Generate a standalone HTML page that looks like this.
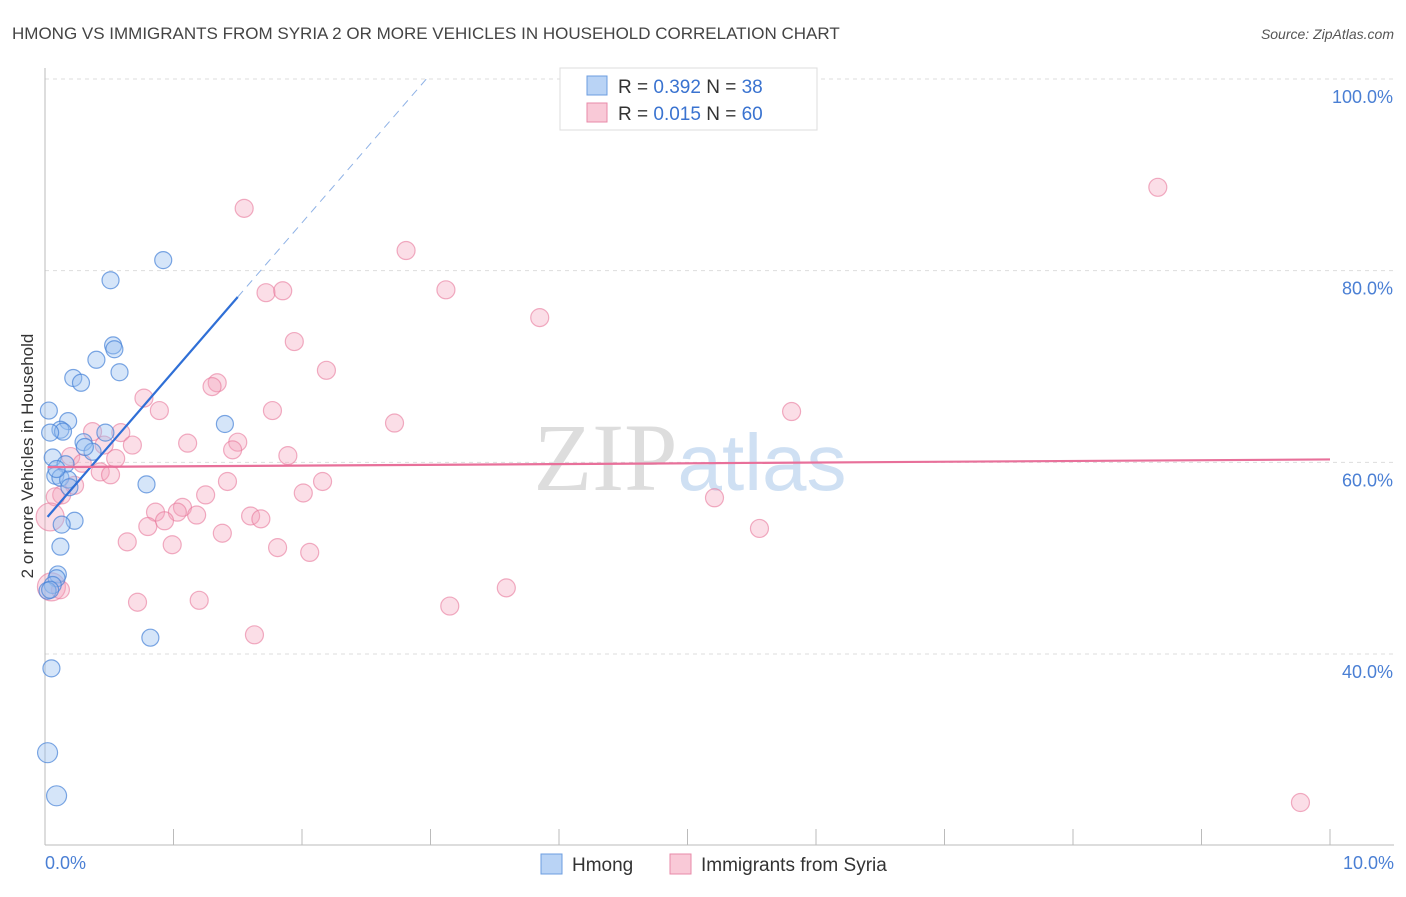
<!DOCTYPE html>
<html><head><meta charset="utf-8"><style>
body{margin:0;background:#fff;font-family:"Liberation Sans",sans-serif}
</style></head><body>
<svg id="c" width="1406" height="892" xmlns="http://www.w3.org/2000/svg">
<text x="12" y="39" font-size="17" fill="#444">HMONG VS IMMIGRANTS FROM SYRIA 2 OR MORE VEHICLES IN HOUSEHOLD CORRELATION CHART</text>
<text x="1394" y="39" font-size="14" fill="#555" font-style="italic" text-anchor="end">Source: ZipAtlas.com</text>
<text x="690" y="490" font-size="96" fill="#ddd" text-anchor="middle" font-family="Liberation Serif,serif">ZIP<tspan fill="#cfe0f3" font-family="Liberation Sans,sans-serif" font-size="80">atlas</tspan></text>
<g id="grid"></g>
<line x1="45" y1="68" x2="45" y2="845" stroke="#bbb"/>
<line x1="45" y1="845" x2="1394" y2="845" stroke="#bbb"/>
<text transform="translate(33,456) rotate(-90)" font-size="17" fill="#333" text-anchor="middle">2 or more Vehicles in Household</text>
<text x="45" y="869" font-size="18" fill="#4a7fd4">0.0%</text>
<text x="1394" y="869" font-size="18" fill="#4a7fd4" text-anchor="end">10.0%</text>
<g id="pts"></g>
<g id="lines"></g>
<g>
<rect x="560" y="68" width="257" height="62" fill="#fff" stroke="#ddd"/>
<rect x="587" y="76" width="20" height="19" fill="#b9d3f5" stroke="#6c9ee0"/>
<rect x="587" y="103" width="20" height="19" fill="#f9c9d7" stroke="#e88aa8"/>
<text x="618" y="93" font-size="19" fill="#333">R = <tspan fill="#3a73d0">0.392</tspan>   N = <tspan fill="#3a73d0">38</tspan></text>
<text x="618" y="120" font-size="19" fill="#333">R = <tspan fill="#3a73d0">0.015</tspan>   N = <tspan fill="#3a73d0">60</tspan></text>
</g>
<g>
<rect x="541" y="854" width="21" height="20" fill="#b9d3f5" stroke="#6c9ee0"/>
<text x="572" y="871" font-size="19" fill="#333">Hmong</text>
<rect x="670" y="854" width="21" height="20" fill="#f9c9d7" stroke="#e88aa8"/>
<text x="701" y="871" font-size="19" fill="#333">Immigrants from Syria</text>
</g>
</svg>
<script>
const yTicks=[100,80,60,40];
const xTicks=[0,1,2,3,4,5,6,7,8,9,10];
const hmongX=[0.92,0.51,0.53,0.54,0.40,0.58,0.22,0.28,0.03,0.18,1.40,0.12,0.14,0.04,0.47,0.30,0.37,0.06,0.16,0.08,0.12,0.18,0.19,0.79,0.23,0.13,0.12,0.10,0.09,0.06,0.02,0.82,0.05,0.02,0.09,0.31,0.09,0.04];
const hmongY=[81.1,79.0,72.2,71.8,70.7,69.4,68.8,68.3,65.4,64.3,64.0,63.4,63.2,63.1,63.1,62.1,61.1,60.5,59.8,58.6,58.4,58.2,57.4,57.7,53.9,53.5,51.2,48.3,47.9,47.2,46.6,41.7,38.5,29.7,25.2,61.6,59.3,46.7];
const syriaX=[8.66,1.55,2.81,1.72,1.85,3.12,3.85,1.94,2.19,1.34,1.30,0.77,0.89,1.77,5.81,2.72,0.37,0.59,0.68,1.11,1.50,1.46,0.46,0.20,0.55,1.89,0.29,0.43,0.51,1.42,2.16,0.23,0.13,0.08,1.25,2.01,5.21,1.07,1.03,0.86,1.18,0.93,1.60,1.68,0.80,0.04,5.56,1.38,0.64,0.99,1.81,2.06,0.05,3.59,0.72,1.20,3.15,1.63,9.77,0.12];
const syriaY=[88.7,86.5,82.1,77.7,77.9,78.0,75.1,72.6,69.6,68.3,67.9,66.7,65.4,65.4,65.3,64.1,63.2,63.1,61.8,62.0,62.1,61.3,61.8,60.6,60.4,60.7,59.9,59.0,58.7,58.0,58.0,57.6,56.6,56.4,56.6,56.8,56.3,55.3,54.8,54.8,54.5,53.9,54.4,54.1,53.3,54.3,53.1,52.6,51.7,51.4,51.1,50.6,47.0,46.9,45.4,45.6,45.0,42.0,24.5,46.7];
const syriaR=[9,9,9,9,9,9,9,9,9,9,9,9,9,9,9,9,9,9,9,9,9,9,9,9,9,9,9,9,9,9,9,9,9,9,9,9,9,9,9,9,9,9,9,9,9,14,9,9,9,9,9,9,14,9,9,9,9,9,9,9];
const hmongTrend=[54.0,15.5]; // intercept %, slope per 1%
const syriaTrend=[59.5,0.08];
const X=v=>45+v*128.5, Y=v=>79+(100-v)*9.583;
const NS="http://www.w3.org/2000/svg";
function mk(t,a,p){const e=document.createElementNS(NS,t);for(const k in a)e.setAttribute(k,a[k]);p.appendChild(e);return e;}
const grid=document.getElementById('grid');
yTicks.forEach(t=>{
 const l=mk('line',{x1:45,x2:1394,y1:Y(t),y2:Y(t),stroke:'#ddd','stroke-dasharray':'4,4'},grid);
 
 
 const tx=mk('text',{x:1393,y:Y(t)+24,'font-size':18,fill:'#4a7fd4','text-anchor':'end'},grid);
 tx.textContent=t.toFixed(1)+'%';
 
 
});
xTicks.forEach(t=>{
 const l=mk('line',{x1:X(t),x2:X(t),y1:829,y2:845,stroke:'#bbb'},grid);
 
 
});
const pts=document.getElementById('pts');
syriaX.forEach((x,i)=>{
 const c=mk('circle',{cx:X(x),cy:Y(syriaY[i]),r:syriaR[i],fill:'rgba(244,160,186,0.35)',stroke:'rgba(232,120,155,0.6)','stroke-width':1.2},pts);
 
 
});
hmongX.forEach((x,i)=>{
 const c=mk('circle',{cx:X(x),cy:Y(hmongY[i]),r:hmongY[i]<30?10:8.5,fill:'rgba(150,190,240,0.4)',stroke:'rgba(70,130,215,0.7)','stroke-width':1.2},pts);
 
 
});
const lines=document.getElementById('lines');
const hx1=1.5, hx2=(100-hmongTrend[0])/hmongTrend[1];
let l=mk('line',{x1:X(0.02),y1:Y(hmongTrend[0]+0.02*hmongTrend[1]),x2:X(hx1),y2:Y(hmongTrend[0]+hx1*hmongTrend[1]),stroke:'#2f6fd6','stroke-width':2.2},lines);


l=mk('line',{x1:X(hx1),y1:Y(hmongTrend[0]+hx1*hmongTrend[1]),x2:X(hx2),y2:Y(100),stroke:'#8fb2e6','stroke-width':1,'stroke-dasharray':'8,6'},lines);


l=mk('line',{x1:X(0.02),y1:Y(syriaTrend[0]),x2:X(10),y2:Y(syriaTrend[0]+10*syriaTrend[1]),stroke:'#e8709a','stroke-width':2.2},lines);


</script>
</body></html>
